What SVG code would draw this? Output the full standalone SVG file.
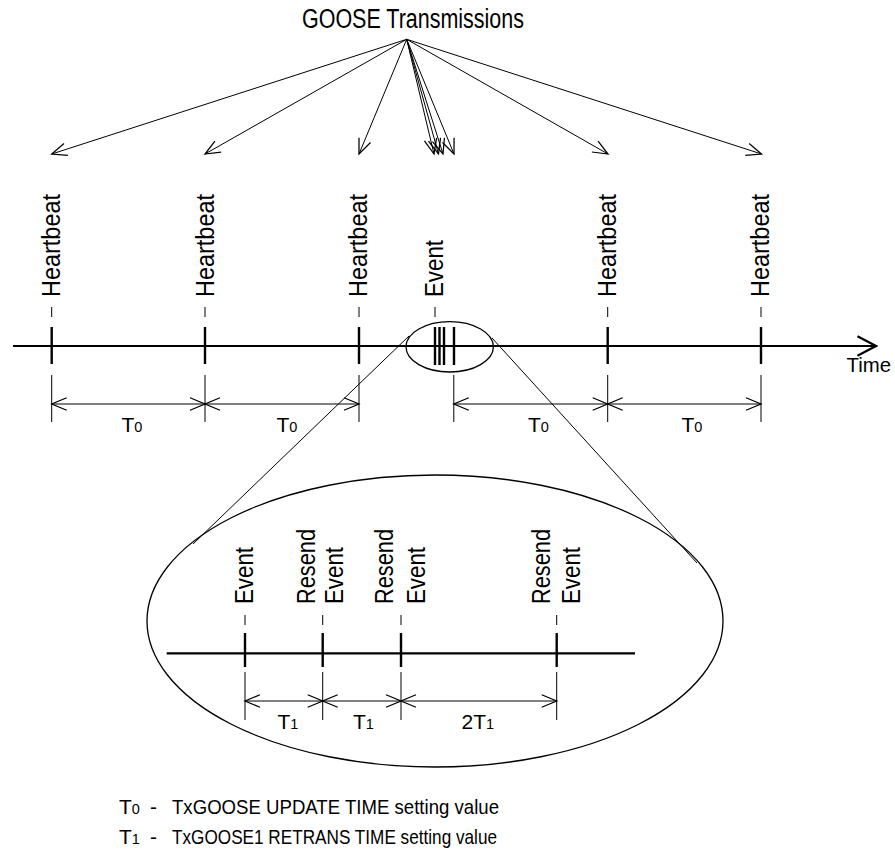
<svg xmlns="http://www.w3.org/2000/svg" width="895" height="858" viewBox="0 0 895 858">
<style>
text{font-family:"Liberation Sans",Arial,sans-serif;fill:#000}
.lbl{font-size:25px}
.thin{stroke:#000;stroke-width:1;fill:none}
.axis{stroke:#000;stroke-width:2.2;fill:none}
.tick{stroke:#000;stroke-width:2.4}
.dim{stroke:#000;stroke-width:1;fill:none;marker-start:url(#ah);marker-end:url(#ah)}
.ray{stroke:#000;stroke-width:1;fill:none;marker-end:url(#ah)}
.t{font-size:21px}
.s{font-size:14.5px}
</style>
<defs>
<marker id="ah" markerUnits="userSpaceOnUse" markerWidth="20" markerHeight="20" viewBox="-14 -8 16 16" refX="0" refY="0" orient="auto-start-reverse">
<path d="M-12,-5 L0,0 L-12,5" fill="none" stroke="#000" stroke-width="1"/>
</marker>
<marker id="big" markerUnits="userSpaceOnUse" markerWidth="24" markerHeight="24" viewBox="-20 -11 22 22" refX="0" refY="0" orient="auto">
<path d="M-17,-9 L0,0 L-17,9" fill="none" stroke="#000" stroke-width="2"/>
</marker>
</defs>

<g id="title">
<text x="302" y="28" font-size="27" textLength="222" lengthAdjust="spacingAndGlyphs">GOOSE Transmissions</text>
</g>

<g id="connectors">
<line class="ray" x1="406.7" y1="39.3" x2="51.7" y2="154"/>
<line class="ray" x1="406.7" y1="39.3" x2="205" y2="154"/>
<line class="ray" x1="406.7" y1="39.3" x2="359" y2="154"/>
<line class="ray" x1="406.7" y1="39.3" x2="434" y2="154"/>
<line class="ray" x1="406.7" y1="39.3" x2="438.5" y2="154"/>
<line class="ray" x1="406.7" y1="39.3" x2="443" y2="154"/>
<line class="ray" x1="406.7" y1="39.3" x2="454" y2="154"/>
<line class="ray" x1="406.7" y1="39.3" x2="608" y2="154"/>
<line class="ray" x1="406.7" y1="39.3" x2="761.5" y2="154"/>
<line class="thin" x1="409" y1="336" x2="193" y2="544"/>
<line class="thin" x1="492" y1="338" x2="697" y2="563"/>
</g>

<g id="timeline">
<line class="axis" x1="13" y1="346" x2="876" y2="346" marker-end="url(#big)"/>
<text x="846.5" y="371.5" font-size="21" textLength="44.5" lengthAdjust="spacingAndGlyphs">Time</text>
</g>

<g id="heartbeat1">
<text class="lbl" transform="translate(60.2,297) rotate(-90)" textLength="103" lengthAdjust="spacingAndGlyphs">Heartbeat</text>
<line class="thin" x1="51.7" y1="307" x2="51.7" y2="317"/>
<line class="tick" x1="51.7" y1="327" x2="51.7" y2="364"/>
<line class="thin" x1="51.7" y1="375" x2="51.7" y2="422"/>
</g>
<g id="heartbeat2">
<text class="lbl" transform="translate(213.5,297) rotate(-90)" textLength="103" lengthAdjust="spacingAndGlyphs">Heartbeat</text>
<line class="thin" x1="205" y1="307" x2="205" y2="317"/>
<line class="tick" x1="205" y1="327" x2="205" y2="364"/>
<line class="thin" x1="205" y1="375" x2="205" y2="422"/>
</g>
<g id="heartbeat3">
<text class="lbl" transform="translate(367.3,297) rotate(-90)" textLength="103" lengthAdjust="spacingAndGlyphs">Heartbeat</text>
<line class="thin" x1="359" y1="307" x2="359" y2="317"/>
<line class="tick" x1="359" y1="327" x2="359" y2="364"/>
<line class="thin" x1="359" y1="375" x2="359" y2="422"/>
</g>
<g id="event">
<text class="lbl" transform="translate(443.3,297) rotate(-90)" textLength="57" lengthAdjust="spacingAndGlyphs">Event</text>
<line class="thin" x1="435" y1="307" x2="435" y2="317"/>
<ellipse cx="449.7" cy="346.8" rx="43.7" ry="25.2" fill="none" stroke="#000" stroke-width="1.3"/>
<line class="tick" x1="435" y1="327" x2="435" y2="365"/>
<line class="tick" x1="439.5" y1="327" x2="439.5" y2="365"/>
<line class="tick" x1="444" y1="327" x2="444" y2="365"/>
<line class="tick" x1="454" y1="327" x2="454" y2="365"/>
<line class="thin" x1="453.8" y1="375" x2="453.8" y2="422"/>
</g>
<g id="heartbeat4">
<text class="lbl" transform="translate(616,297) rotate(-90)" textLength="103" lengthAdjust="spacingAndGlyphs">Heartbeat</text>
<line class="thin" x1="607.7" y1="307" x2="607.7" y2="317"/>
<line class="tick" x1="607.7" y1="327" x2="607.7" y2="364"/>
<line class="thin" x1="607.7" y1="375" x2="607.7" y2="422"/>
</g>
<g id="heartbeat5">
<text class="lbl" transform="translate(769.3,297) rotate(-90)" textLength="103" lengthAdjust="spacingAndGlyphs">Heartbeat</text>
<line class="thin" x1="761" y1="307" x2="761" y2="317"/>
<line class="tick" x1="761" y1="327" x2="761" y2="364"/>
<line class="thin" x1="761" y1="375" x2="761" y2="422"/>
</g>

<g id="t0-dims">
<line class="dim" x1="51.7" y1="404" x2="205" y2="404"/>
<line class="dim" x1="205" y1="404" x2="359" y2="404"/>
<line class="dim" x1="453.8" y1="404" x2="607.7" y2="404"/>
<line class="dim" x1="607.7" y1="404" x2="761" y2="404"/>
<text x="121.5" y="431.5"><tspan class="t">T</tspan><tspan class="s">0</tspan></text>
<text x="276.5" y="431.5"><tspan class="t">T</tspan><tspan class="s">0</tspan></text>
<text x="528" y="431.5"><tspan class="t">T</tspan><tspan class="s">0</tspan></text>
<text x="681.5" y="431.5"><tspan class="t">T</tspan><tspan class="s">0</tspan></text>
</g>

<g id="zoom">
<ellipse cx="435" cy="621" rx="288" ry="146" fill="none" stroke="#000" stroke-width="1.3"/>
<line class="axis" x1="166.7" y1="653.3" x2="635" y2="653.3"/>
<text class="lbl" transform="translate(253.3,604) rotate(-90)" textLength="57" lengthAdjust="spacingAndGlyphs">Event</text>
<text class="lbl" transform="translate(315,604) rotate(-90)" textLength="75" lengthAdjust="spacingAndGlyphs">Resend</text>
<text class="lbl" transform="translate(343.3,604) rotate(-90)" textLength="57" lengthAdjust="spacingAndGlyphs">Event</text>
<text class="lbl" transform="translate(393.3,604) rotate(-90)" textLength="75" lengthAdjust="spacingAndGlyphs">Resend</text>
<text class="lbl" transform="translate(425,604) rotate(-90)" textLength="57" lengthAdjust="spacingAndGlyphs">Event</text>
<text class="lbl" transform="translate(550,604) rotate(-90)" textLength="75" lengthAdjust="spacingAndGlyphs">Resend</text>
<text class="lbl" transform="translate(580,604) rotate(-90)" textLength="57" lengthAdjust="spacingAndGlyphs">Event</text>
<g>
<line class="thin" x1="245" y1="615" x2="245" y2="625"/>
<line class="thin" x1="322.7" y1="615" x2="322.7" y2="625"/>
<line class="thin" x1="401" y1="615" x2="401" y2="625"/>
<line class="thin" x1="556.7" y1="615" x2="556.7" y2="625"/>
<line class="tick" x1="245" y1="633" x2="245" y2="667"/>
<line class="tick" x1="322.7" y1="633" x2="322.7" y2="667"/>
<line class="tick" x1="401" y1="633" x2="401" y2="667"/>
<line class="tick" x1="556.7" y1="633" x2="556.7" y2="667"/>
<line class="thin" x1="245" y1="672" x2="245" y2="720"/>
<line class="thin" x1="322.7" y1="672" x2="322.7" y2="720"/>
<line class="thin" x1="401" y1="672" x2="401" y2="720"/>
<line class="thin" x1="556.7" y1="672" x2="556.7" y2="720"/>
</g>
<line class="dim" x1="245" y1="701" x2="322.7" y2="701"/>
<line class="dim" x1="322.7" y1="701" x2="401" y2="701"/>
<line class="dim" x1="401" y1="701" x2="556.7" y2="701"/>
<text x="277.5" y="729"><tspan class="t">T</tspan><tspan class="s">1</tspan></text>
<text x="353" y="729"><tspan class="t">T</tspan><tspan class="s">1</tspan></text>
<text x="461.5" y="729"><tspan class="t">2T</tspan><tspan class="s">1</tspan></text>
</g>

<g id="legend">
<text x="119" y="813.5"><tspan class="t">T</tspan><tspan class="s">0</tspan></text>
<text x="150" y="813.5" class="t">-</text>
<text x="172" y="813.5" class="t" textLength="327" lengthAdjust="spacingAndGlyphs">TxGOOSE UPDATE TIME setting value</text>
<text x="119" y="844"><tspan class="t">T</tspan><tspan class="s">1</tspan></text>
<text x="150" y="844" class="t">-</text>
<text x="172" y="844" class="t" textLength="325" lengthAdjust="spacingAndGlyphs">TxGOOSE1 RETRANS TIME setting value</text>
</g>
</svg>
